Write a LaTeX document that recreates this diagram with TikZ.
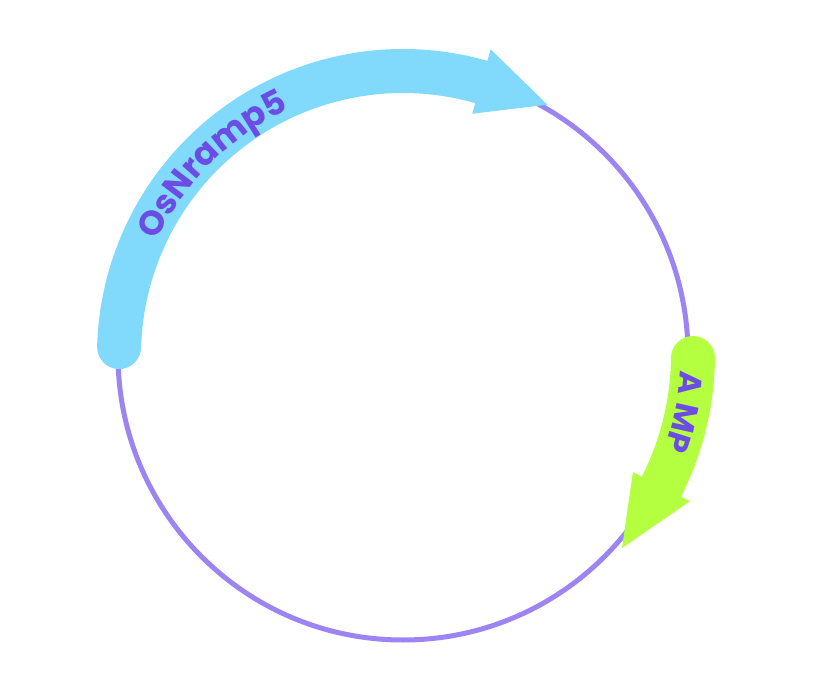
\documentclass[tikz,border=0pt]{standalone}
\usepackage{fontspec}
\setmainfont{Poppins}
\usetikzlibrary{decorations.text}
\definecolor{ringcol}{HTML}{9C85F2}
\definecolor{bluecol}{HTML}{81D9FC}
\definecolor{greencol}{HTML}{B3FF40}
\definecolor{labelcol}{HTML}{6B4DE6}
\tikzset{
  ring/.style={draw=ringcol, line width=5pt},
  bluefeat/.style={fill=bluecol, draw=none},
  greenfeat/.style={fill=greencol, draw=none},
  featlabel/.style={decorate, decoration={text along path, text align=center,
      text color=labelcol}}
}
\begin{document}
\begin{tikzpicture}[x=1pt,y=1pt]
\useasboundingbox (-403,-340) rectangle (410,355);
\fill[white] (-403,-340) rectangle (410,355);
% plasmid backbone
\draw[ring] (0,0) circle[radius=285];
% OsNramp5 feature
\fill[bluefeat] (178.4:306) arc[start angle=178.4, end angle=74, radius=306]
  -- (74:318) -- (60:289) -- (74:251) -- (74:262)
  arc[start angle=74, end angle=178.4, radius=262]
  arc[start angle=-1.6, delta angle=-180, radius=22] -- cycle;
% AMP feature
\fill[greenfeat] (-0.6:312) arc[start angle=-0.6, end angle=-27, radius=312]
  -- (-27:322) -- (-41.4:292) -- (-27:258) -- (-27:268)
  arc[start angle=-27, end angle=-0.6, radius=268]
  arc[start angle=179.4, delta angle=-180, radius=22] -- cycle;
% labels
\path[featlabel, decoration={text={|\bfseries\fontsize{34}{34}\selectfont|OsNramp5}}]
  (165:271) arc[start angle=165, end angle=105, radius=271];
\path[featlabel, decoration={text={|\bfseries\fontsize{32}{32}\selectfont|A MP}}]
  (8:278) arc[start angle=8, end angle=-31, radius=278];
\end{tikzpicture}
\end{document}
